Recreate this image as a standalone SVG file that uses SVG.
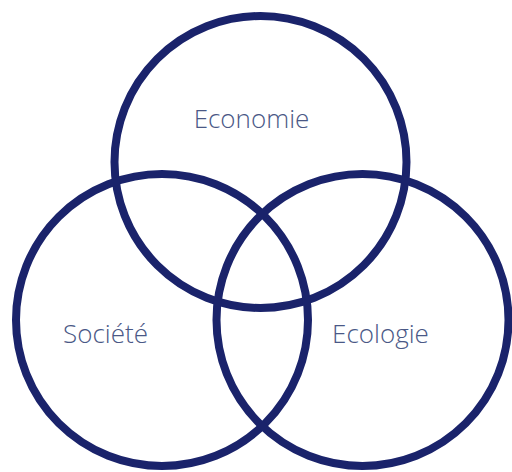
<svg xmlns="http://www.w3.org/2000/svg" width="512" height="472" viewBox="0 0 512 472">
<style>
.c{fill:none;stroke:#1a236b;stroke-width:8}
.t{font-family:"Open Sans","Noto Sans",sans-serif;font-size:26px;font-weight:300;fill:#4a5886;text-anchor:middle}
</style>
<rect width="512" height="472" fill="#fff"/>
<g id="economie"><circle class="c" cx="260.5" cy="162" r="146"/><text class="t" x="251.5" y="128">Economie</text></g>
<g id="societe"><circle class="c" cx="162" cy="320" r="146"/><text class="t" x="105.5" y="343">Société</text></g>
<g id="ecologie"><circle class="c" cx="362.5" cy="320" r="146"/><text class="t" x="380.5" y="343">Ecologie</text></g>
<g id="connectors"/>
</svg>
